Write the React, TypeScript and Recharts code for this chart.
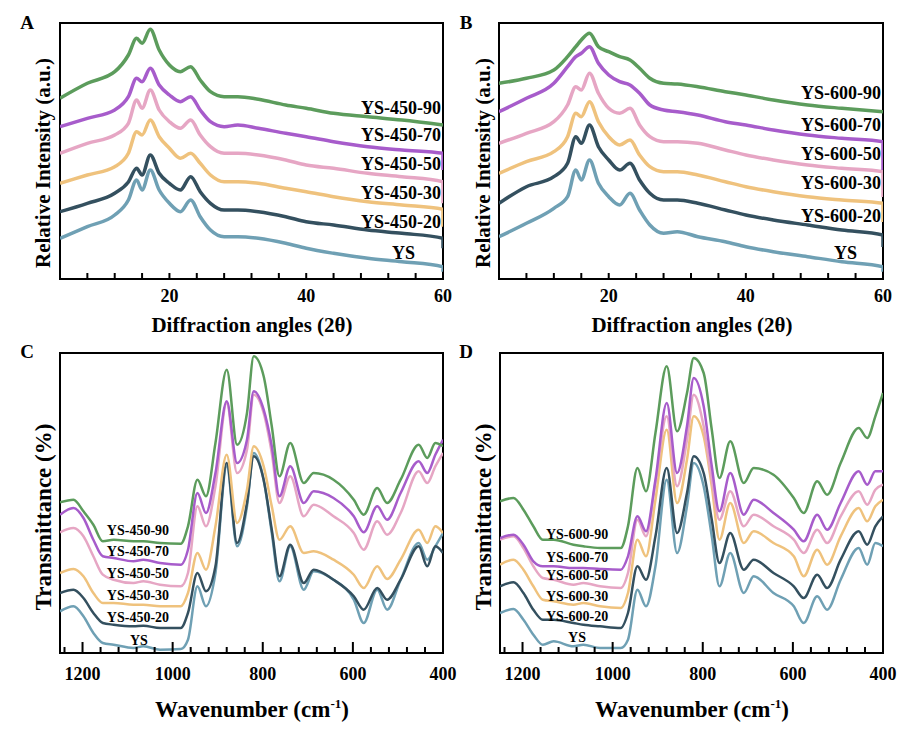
import React from "react";
import { LineChart, Line, XAxis, YAxis, ReferenceArea, ReferenceDot } from "recharts";

const FONT = '"Liberation Serif", "Times New Roman", serif';

// sample names and colours (bottom to top)
const names450 = ["YS", "YS-450-20", "YS-450-30", "YS-450-50", "YS-450-70", "YS-450-90"];
const names600 = ["YS", "YS-600-20", "YS-600-30", "YS-600-50", "YS-600-70", "YS-600-90"];
const colors = ["#6fa0b4", "#34505f", "#efc27d", "#e6a6c4", "#a75ccb", "#5c9c5c"];

// XRD, 2 theta (last point repeated: the trace drops at the right edge)
const angles = [4, 8, 12, 14, 15.2, 16, 17.2, 18.5, 20, 21.6, 23.1, 24.5, 26, 28, 30, 33, 37, 40, 44, 49, 54, 60, 60];

const xrdA_YS = [40.7, 52.3, 64, 79, 99, 89, 109, 89, 75.7, 67.3, 79, 62.3, 49, 42.3, 42.3, 40.7, 35.7, 30.7, 25.7, 20.7, 17.3, 12.3, 7.3];
const xrdA_20 = [67.3, 75.7, 85.7, 97, 110.7, 104, 124, 105.7, 95.7, 89, 102.3, 87.3, 75.7, 69, 69, 67.3, 62.3, 57.3, 54, 49, 45.7, 40.7, 30.7];
const xrdA_30 = [95.7, 104, 112.3, 125.7, 147.3, 144, 159, 142.3, 130.7, 120.7, 125.7, 115.7, 104, 97.3, 97.3, 95.7, 90.7, 87.3, 82.3, 77.3, 74, 69.7, 52.3];
const xrdA_50 = [125.7, 135.7, 144, 155.7, 179, 170.7, 189, 169, 157.3, 150.7, 159, 144, 132.3, 125.7, 125.7, 124, 119, 114, 110.7, 105.7, 102.3, 97.3, 75.7];
const xrdA_70 = [152.3, 160.7, 169, 182.3, 200.7, 197.3, 210.7, 194, 184, 177.3, 182.3, 169, 157.3, 152.3, 154, 150.7, 145.7, 142.3, 137.3, 132.3, 129, 125.7, 109];
const xrdA_90 = [180.7, 195.7, 207.3, 224, 240.7, 235.7, 249.7, 229, 214, 207.3, 212.3, 199, 187.3, 182.3, 182.3, 179.7, 174, 170.7, 165.7, 162.3, 159, 154, 154];

const xrdB_YS = [42.3, 55.7, 70.7, 82.3, 109, 99, 119, 95.7, 82.3, 74, 85.7, 69, 54, 45.7, 47.3, 42.3, 37.3, 32.3, 27.3, 22.3, 17.3, 12.3, 7.3];
const xrdB_20 = [75.7, 92.3, 102.3, 115.7, 142.3, 135.7, 154, 132.3, 119, 109, 115.7, 99, 85.7, 79, 79, 75.7, 69, 64, 59, 54, 49, 44, 32];
const xrdB_30 = [105.7, 117.3, 127.3, 142.3, 165.7, 162.3, 177.3, 157.3, 142.3, 134, 139, 124, 112.3, 107.3, 107.3, 104, 97.3, 92.3, 87.3, 82.3, 79, 75.7, 57];
const xrdB_50 = [135.7, 145.7, 157.3, 174, 192.3, 189, 205.7, 185.7, 170.7, 165.7, 170.7, 154, 142.3, 137.3, 137.3, 135.7, 129, 124, 119, 114, 110.7, 107.3, 82];
const xrdB_70 = [167.3, 180.7, 195.7, 212.3, 222.3, 225.7, 232.3, 215.7, 204, 197.3, 194, 185.7, 174, 169, 167.3, 164, 157.3, 154, 149, 144, 140.7, 137.3, 109];
const xrdB_90 = [195.7, 200.7, 209, 222.3, 232.3, 239, 245.7, 232.3, 227.3, 222.3, 219, 210.7, 200.7, 195.7, 195, 192.3, 187.3, 184, 179, 174, 170.7, 167.3, 167.3];

// FTIR, wavenumber cm-1
const wavenumbers = [1250, 1220, 1198, 1176, 1155, 1131, 1087, 1065, 1028, 982, 966, 945, 926, 905, 880, 857, 835, 820, 798, 780, 763, 739, 709, 687, 643, 598, 576, 546, 524, 494, 454, 435, 417, 400];

const ftC_YS = [41.7, 46.7, 36.7, 20, 10, 8.3, 5, 6.7, 3.3, 4, 13.3, 66.7, 46.7, 80, 186.7, 106.7, 146.7, 200, 173.3, 120, 71.7, 106.7, 63.3, 81.7, 73.3, 53.3, 30, 63.3, 43.3, 73.3, 110, 93.3, 106.7, 120];
const ftC_20 = [60, 63.3, 55, 40, 30, 28.3, 26.7, 27.3, 25, 25, 40, 80, 61.7, 86.7, 190, 110, 150, 196.7, 173, 123.3, 76.7, 108.3, 70, 83.3, 73.3, 56.7, 43.3, 65, 53.3, 73.3, 106.7, 86.7, 106.7, 100];
const ftC_30 = [80, 84, 76.7, 60, 50, 50, 48.3, 48.3, 46.7, 46.7, 60, 100, 83.3, 126.7, 198.3, 130, 163.3, 206.7, 186.7, 146.7, 113.3, 126.7, 100, 101.7, 93.3, 78.3, 65, 86.7, 74, 93.3, 123.3, 110, 126.7, 120];
const ftC_50 = [120.7, 125, 116.7, 96.7, 78.3, 73.3, 70, 71.7, 68.3, 66.7, 80, 146.7, 126.7, 166.7, 250, 180, 203.3, 258.3, 240, 200, 150, 176.7, 136.7, 148.3, 136.7, 120, 103.3, 131.7, 118.3, 140, 181.7, 170, 186.7, 200];
const ftC_70 = [138.3, 145, 135, 113.3, 96.7, 95, 91.7, 93.3, 90, 88.3, 103.3, 160, 140, 180, 251.7, 190, 213.3, 261.7, 243.3, 206.7, 156.7, 186.7, 150, 161.7, 155, 136.7, 120.7, 146.7, 133.3, 160, 191.7, 180, 198.3, 213.3];
const ftC_90 = [150.7, 153.3, 141.7, 128.3, 111.7, 113.3, 111.7, 111.7, 110, 109.3, 126.7, 173.3, 156.7, 210, 283.3, 208.3, 240, 296.7, 276.7, 226.7, 176.7, 210, 170, 180, 173.3, 153.3, 138.3, 165, 150, 173.3, 208.3, 195, 210, 206.7];

const ftD_YS = [40, 44, 33.3, 18.3, 8.3, 11.7, 6.7, 8.3, 5, 5, 13.3, 63.3, 46.7, 86.7, 173.3, 100, 146.7, 190, 166.7, 116.7, 66.7, 100, 60, 76.7, 60, 46.7, 30, 56.7, 43.3, 73.3, 105, 88.3, 110, 106.7];
const ftD_20 = [66.7, 70.7, 60, 43.3, 33.3, 33.3, 30, 28.3, 26.7, 25, 40, 86.7, 73.3, 116.7, 185, 120, 160, 196.7, 180, 133.3, 90, 120, 83.3, 93.3, 80, 66.7, 55, 78.3, 65, 93.3, 121.7, 108.3, 126.7, 136.7];
const ftD_30 = [88.3, 93.3, 83.3, 66.7, 53.3, 51.7, 48.3, 50, 46.7, 45, 60, 113.3, 96.7, 153.3, 223.3, 150, 193.3, 236.7, 216.7, 166.7, 113.3, 150, 110, 121.7, 110, 96.7, 76.7, 103.3, 88.3, 116.7, 145, 131.7, 146.7, 153.3];
const ftD_50 = [113.3, 116.7, 105, 86.7, 75, 73.3, 68.3, 70, 66.7, 65, 80, 133.3, 116.7, 170, 236.7, 166.7, 213.3, 258.3, 226.7, 173.3, 133.3, 161.7, 126.7, 138.3, 126.7, 113.3, 100, 123.3, 110, 136.7, 161.7, 148.3, 163.3, 168.3];
const ftD_70 = [115, 118.3, 108.3, 91.7, 86.7, 86.7, 85, 85, 84, 83.3, 96.7, 136.7, 121.7, 173.3, 250, 180, 226.7, 275, 246.7, 186.7, 141.7, 180, 138.3, 153.3, 140, 123.3, 111.7, 138.3, 123.3, 150, 181.7, 168.3, 181.7, 181.7];
const ftD_90 = [151.7, 155, 143.3, 126.7, 113.3, 113.3, 108.3, 106.7, 105, 105, 126.7, 185, 161.7, 220, 286.7, 221.7, 260, 295, 280, 223.3, 175, 211.7, 170, 185, 178.3, 155, 140, 171.7, 158.3, 190, 225, 215, 236.7, 260];

const xrdTicks = [8, 12, 16, 20, 24, 28, 32, 36, 40, 44, 48, 52, 56, 60];
const xrdLabels = [20, 40, 60];
const ftTicks = [400, 440, 480, 520, 560, 600, 640, 680, 720, 760, 800, 840, 880, 920, 960, 1000, 1040, 1080, 1120, 1160, 1200, 1240];
const ftLabels = [400, 600, 800, 1000, 1200];

function buildRows(xs: number[], series: number[][]) {
  return xs.map((x, i) => {
    const row: any = { x };
    series.forEach((s, j) => (row["s" + j] = s[i]));
    return row;
  });
}

function makeTick(labels: number[], longLen: number, shortLen: number, dy: number, size: number) {
  return (props: any) => {
    const { x, y, payload } = props;
    const major = labels.includes(payload.value);
    return (
      <g>
        <line x1={x} x2={x} y1={y} y2={y - (major ? longLen : shortLen)} stroke="#000" strokeWidth={2} />
        {major && (
          <text x={x} y={y + dy} textAnchor="middle" fontFamily={FONT} fontWeight={700} fontSize={size} fill="#000">
            {payload.value}
          </text>
        )}
      </g>
    );
  };
}

function Panel(p: any) {
  const rows = buildRows(p.xs, p.series);
  return (
    <div style={{ position: "absolute", left: p.left, top: p.top }}>
      <LineChart width={p.width} height={p.height} data={rows} margin={p.margin}>
        <XAxis
          dataKey="x"
          type="number"
          domain={p.xDomain}
          reversed={p.reversed}
          ticks={p.ticks}
          interval={0}
          allowDataOverflow
          axisLine={false}
          tickLine={false}
          tickSize={0}
          tickMargin={0}
          height={30}
          tick={makeTick(p.labelTicks, p.tickLong, p.tickShort, p.tickDy, p.tickFont)}
        />
        <YAxis hide type="number" domain={p.yDomain} allowDataOverflow />
        {p.series.map((_: any, j: number) => (
          <Line
            key={j}
            dataKey={"s" + j}
            type={p.curve}
            stroke={colors[j]}
            strokeWidth={p.strokeWidth}
            strokeLinejoin="round"
            dot={false}
            isAnimationActive={false}
          />
        ))}
        <ReferenceArea
          x1={p.xDomain[0]}
          x2={p.xDomain[1]}
          y1={p.yDomain[0]}
          y2={p.yDomain[1]}
          fill="none"
          fillOpacity={0}
          stroke="#000"
          strokeWidth={2}
        />
        {p.names.map((n: string, j: number) => (
          <ReferenceDot
            key={"l" + j}
            x={p.labelPos[j][0]}
            y={p.labelPos[j][1]}
            r={0}
            fill="none"
            stroke="none"
            ifOverflow="visible"
            label={{
              value: n,
              position: p.labelAnchor,
              offset: 2,
              fontFamily: FONT,
              fontWeight: 700,
              fontSize: p.labelFont,
              fill: "#000",
            }}
          />
        ))}
      </LineChart>
    </div>
  );
}

function Txt({ x, y, size, rotate, children }: any) {
  return (
    <div
      style={{
        position: "absolute",
        left: x,
        top: y,
        transform: `translate(-50%, -50%)${rotate ? " rotate(-90deg)" : ""}`,
        fontFamily: FONT,
        fontWeight: 700,
        fontSize: size,
        lineHeight: 1,
        whiteSpace: "nowrap",
        color: "#000",
      }}
    >
      {children}
    </div>
  );
}

const wn = (
  <span>
    Wavenumber (cm<span style={{ fontSize: 13, verticalAlign: "9px" }}>-1</span>)
  </span>
);

export default function App() {
  return (
    <div style={{ position: "absolute", left: 0, top: 0, width: 922, height: 734, background: "#fff", overflow: "hidden" }}>
      <Panel
        left={0}
        top={0}
        width={460}
        height={340}
        margin={{ top: 23, right: 17, bottom: 31, left: 60 }}
        xs={angles}
        series={[xrdA_YS, xrdA_20, xrdA_30, xrdA_50, xrdA_70, xrdA_90]}
        names={names450}
        xDomain={[4, 60]}
        yDomain={[0, 256]}
        reversed={false}
        ticks={xrdTicks}
        labelTicks={xrdLabels}
        tickLong={6}
        tickShort={6}
        tickDy={23}
        tickFont={18}
        curve="monotone"
        strokeWidth={3.5}
        labelAnchor="left"
        labelFont={18}
        labelPos={[[56.2, 26], [60, 57], [60, 86], [60, 115], [60, 144], [60, 171]]}
      />
      <Panel
        left={460}
        top={0}
        width={462}
        height={340}
        margin={{ top: 23, right: 39, bottom: 31, left: 39 }}
        xs={angles}
        series={[xrdB_YS, xrdB_20, xrdB_30, xrdB_50, xrdB_70, xrdB_90]}
        names={names600}
        xDomain={[4, 60]}
        yDomain={[0, 256]}
        reversed={false}
        ticks={xrdTicks}
        labelTicks={xrdLabels}
        tickLong={6}
        tickShort={6}
        tickDy={23}
        tickFont={18}
        curve="monotone"
        strokeWidth={3.5}
        labelAnchor="left"
        labelFont={18}
        labelPos={[[56.5, 26], [60, 63], [60, 96], [60, 125], [60, 154], [60, 186]]}
      />
      <Panel
        left={0}
        top={340}
        width={460}
        height={394}
        margin={{ top: 13, right: 17, bottom: 51, left: 60 }}
        xs={wavenumbers}
        series={[ftC_YS, ftC_20, ftC_30, ftC_50, ftC_70, ftC_90]}
        names={names450}
        xDomain={[400, 1250]}
        yDomain={[0, 300]}
        reversed={true}
        ticks={ftTicks}
        labelTicks={ftLabels}
        tickLong={11}
        tickShort={6}
        tickDy={27}
        tickFont={18}
        curve="monotone"
        strokeWidth={2.5}
        labelAnchor="center"
        labelFont={14}
        labelPos={[[1075, 13], [1077, 36], [1077, 58], [1077, 80], [1077, 102], [1077, 123]]}
      />
      <Panel
        left={460}
        top={340}
        width={462}
        height={394}
        margin={{ top: 13, right: 39, bottom: 51, left: 40 }}
        xs={wavenumbers}
        series={[ftD_YS, ftD_20, ftD_30, ftD_50, ftD_70, ftD_90]}
        names={names600}
        xDomain={[400, 1250]}
        yDomain={[0, 300]}
        reversed={true}
        ticks={ftTicks}
        labelTicks={ftLabels}
        tickLong={11}
        tickShort={6}
        tickDy={27}
        tickFont={18}
        curve="monotone"
        strokeWidth={2.5}
        labelAnchor="center"
        labelFont={14}
        labelPos={[[1079, 16], [1079, 37], [1079, 57], [1079, 78], [1079, 96], [1079, 119]]}
      />

      <Txt x={27} y={22} size={19}>A</Txt>
      <Txt x={466} y={22} size={19}>B</Txt>
      <Txt x={27} y={351} size={19}>C</Txt>
      <Txt x={466} y={351} size={19}>D</Txt>

      <Txt x={43} y={163} size={21} rotate>Relative Intensity (a.u.)</Txt>
      <Txt x={483} y={163} size={21} rotate>Relative Intensity (a.u.)</Txt>
      <Txt x={252} y={325} size={21}>Diffraction angles (2θ)</Txt>
      <Txt x={692} y={325} size={21}>Diffraction angles (2θ)</Txt>

      <Txt x={43} y={517} size={23} rotate>Transmittance (%)</Txt>
      <Txt x={483} y={517} size={23} rotate>Transmittance (%)</Txt>
      <Txt x={252} y={709} size={23}>{wn}</Txt>
      <Txt x={692} y={709} size={23}>{wn}</Txt>
    </div>
  );
}
